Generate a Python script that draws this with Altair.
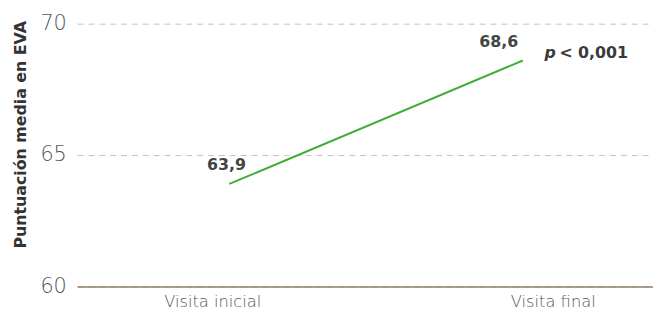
import altair as alt
import pandas as pd

visitas = ["Visita inicial", "Visita final"]
puntuacion = [63.9, 68.6]
etiquetas = ["63,9", "68,6"]
p_simbolo = "p"
p_resto = "< 0,001"
y_titulo = "Puntuación media en EVA"
y_ticks = [60, 65, 70]

df = pd.DataFrame({"visita": visitas, "valor": puntuacion, "etiqueta": etiquetas})
df_p = pd.DataFrame({"visita": [visitas[-1]], "valor": [puntuacion[-1]],
                     "p": [p_simbolo], "resto": [p_resto]})

FONT = "DejaVu Sans"

yscale = alt.Scale(domain=[60, 70], nice=False, zero=False)
y_axis = alt.Axis(values=y_ticks, title=y_titulo, grid=True, gridDash=[6, 5],
                  gridColor="#c9c0b7", gridWidth=1, domain=False, ticks=False,
                  labelFont=FONT, labelFontSize=21, labelFontWeight=200,
                  labelColor="#555555", labelPadding=11,
                  titleFont=FONT, titleFontSize=16, titleFontWeight="bold",
                  titleColor="#333333", titlePadding=12, titleY=112)
y_enc = alt.Y("valor:Q", scale=yscale, axis=y_axis)

line_x = alt.X("visita:N", sort=visitas,
               scale=alt.Scale(type="point", domain=visitas, padding=0.481, align=0.539),
               axis=None)

line = alt.Chart(df).mark_line(color="#3fae39", strokeWidth=2).encode(x=line_x, y=y_enc)

p1 = alt.Chart(df_p).mark_text(font=FONT, fontSize=16, fontStyle="italic", fontWeight="bold",
                               color="#3a3a3a", align="left", baseline="middle",
                               dx=22, dy=-8).encode(x=line_x, y=y_enc, text="p:N")
p2 = alt.Chart(df_p).mark_text(font=FONT, fontSize=16, fontWeight="bold",
                               color="#3a3a3a", align="left", baseline="middle",
                               dx=37, dy=-8).encode(x=line_x, y=y_enc, text="resto:N")

inner = alt.layer(line, p1, p2)

text_x = alt.X("visita:N", sort=visitas,
               scale=alt.Scale(type="point", domain=visitas, padding=0.557, align=0.492),
               axis=None)
labels = alt.Chart(df).mark_text(font=FONT, fontSize=16, fontWeight="bold", color="#444444",
                                 align="center", baseline="bottom", dy=-11).encode(
    x=text_x, y=y_enc, text="etiqueta:N")

axis_x = alt.X("visita:N", sort=visitas,
               scale=alt.Scale(type="point", domain=visitas, padding=0.3456, align=0.574),
               axis=alt.Axis(title=None, grid=False, ticks=False, domain=True,
                             domainColor="#8c7d6e", domainWidth=1.5,
                             labelFont=FONT, labelFontSize=16.5, labelFontWeight=200,
                             labelColor="#555555", labelPadding=7, labelAngle=0))
axis_layer = alt.Chart(df).mark_point(opacity=0).encode(x=axis_x, y=y_enc)

chart = alt.layer(inner, labels, axis_layer).resolve_scale(x="independent").properties(
    width=583, height=266,
    background="white",
    autosize=alt.AutoSizeParams(type="none"),
    padding={"left": 70, "top": 14, "right": 0, "bottom": 23},
).configure_view(stroke=None)

chart.save("out.html", embed_options={"renderer": "svg", "actions": False})
